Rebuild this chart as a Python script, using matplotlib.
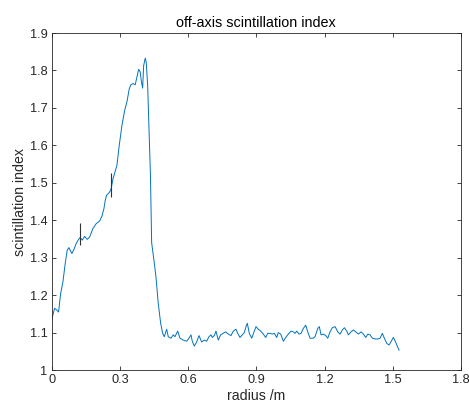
import numpy as np
import matplotlib.pyplot as plt

# values
radius = [0.0, 0.0132, 0.0233, 0.0308, 0.0396, 0.0497, 0.0598, 0.0686, 0.0761, 0.0893,
          0.0981, 0.1082, 0.1188, 0.1258, 0.1346, 0.1452, 0.1566, 0.1672, 0.1817, 0.1962,
          0.2111, 0.2213, 0.2301, 0.2358, 0.2419, 0.2534, 0.2609, 0.2697, 0.2873, 0.2974,
          0.3092, 0.3211, 0.3312, 0.3414, 0.3488, 0.3576, 0.3677, 0.3752, 0.3827, 0.3897,
          0.3941, 0.4003, 0.4047, 0.4117, 0.4161, 0.4223, 0.4293, 0.4346, 0.4399, 0.4500,
          0.4588, 0.4689, 0.4795, 0.4883, 0.4953, 0.5059, 0.5129, 0.5248, 0.5349, 0.5424,
          0.5543, 0.5644, 0.5789, 0.5939, 0.6040, 0.6128, 0.6185, 0.6273, 0.6378, 0.6480,
          0.6598, 0.6713, 0.6818, 0.6919, 0.7007, 0.7064, 0.7152, 0.7227, 0.7328, 0.7434,
          0.7548, 0.7654, 0.7768, 0.7887, 0.7988, 0.8107, 0.8182, 0.8283, 0.8384, 0.8472,
          0.8547, 0.8604, 0.8692, 0.8798, 0.8899, 0.8987, 0.9088, 0.9194, 0.9308, 0.9413,
          0.9501, 0.9602, 0.9704, 0.9792, 0.9897, 0.9968, 1.0073, 1.0188, 1.0293, 1.0408,
          1.0526, 1.0627, 1.0702, 1.0777, 1.0878, 1.0966, 1.1067, 1.1173, 1.1261, 1.1362,
          1.1507, 1.1582, 1.1701, 1.1771, 1.1846, 1.1947, 1.2053, 1.2141, 1.2242, 1.2343,
          1.2462, 1.2581, 1.2682, 1.2783, 1.2871, 1.2977, 1.3047, 1.3166, 1.3267, 1.3372,
          1.3487, 1.3605, 1.3707, 1.3812, 1.3900, 1.4001, 1.4103, 1.4221, 1.4340, 1.4441,
          1.4542, 1.4630, 1.4736, 1.4837, 1.4925, 1.5026, 1.5101, 1.5176, 1.5277]
scint = [1.133, 1.165, 1.160, 1.155, 1.204, 1.235, 1.284, 1.320, 1.327, 1.311,
         1.322, 1.338, 1.349, 1.354, 1.347, 1.357, 1.349, 1.355, 1.378, 1.391,
         1.398, 1.411, 1.431, 1.453, 1.467, 1.474, 1.482, 1.510, 1.547, 1.600,
         1.653, 1.693, 1.716, 1.751, 1.762, 1.765, 1.762, 1.782, 1.803, 1.796,
         1.773, 1.753, 1.813, 1.833, 1.822, 1.760, 1.618, 1.520, 1.340, 1.293,
         1.249, 1.178, 1.125, 1.098, 1.089, 1.109, 1.089, 1.085, 1.094, 1.089,
         1.104, 1.085, 1.080, 1.077, 1.085, 1.094, 1.077, 1.064, 1.075, 1.092,
         1.075, 1.080, 1.077, 1.089, 1.094, 1.087, 1.092, 1.104, 1.080, 1.094,
         1.098, 1.102, 1.096, 1.092, 1.104, 1.109, 1.098, 1.087, 1.094, 1.100,
         1.116, 1.125, 1.098, 1.085, 1.102, 1.116, 1.109, 1.104, 1.096, 1.087,
         1.098, 1.098, 1.096, 1.098, 1.087, 1.100, 1.096, 1.077, 1.087, 1.096,
         1.104, 1.102, 1.098, 1.104, 1.096, 1.098, 1.111, 1.120, 1.102, 1.085,
         1.085, 1.089, 1.111, 1.116, 1.094, 1.096, 1.092, 1.085, 1.102, 1.113,
         1.116, 1.102, 1.096, 1.107, 1.113, 1.104, 1.094, 1.102, 1.107, 1.102,
         1.096, 1.102, 1.096, 1.087, 1.096, 1.094, 1.085, 1.083, 1.083, 1.085,
         1.098, 1.085, 1.071, 1.067, 1.076, 1.087, 1.078, 1.067, 1.053]

# two error bars
err_r   = [0.126, 0.261]
err_mid = [1.364, 1.495]
err_half = [0.029, 0.032]

plt.rcParams['font.family'] = ['Liberation Sans', 'DejaVu Sans']
grey = '#262626'

fig = plt.figure(figsize=(4.69, 4.13), dpi=100)
ax = fig.add_axes([0.110, 0.104, 0.873, 0.816])

ax.plot(radius, scint, color='#0072BD', lw=0.7)
ax.errorbar(err_r, err_mid, yerr=err_half, fmt='none', ecolor='#333333',
            elinewidth=0.8, capsize=0)

ax.set_xlim(0, 1.8)
ax.set_ylim(1, 1.9)
ax.set_xticks(np.arange(0, 1.81, 0.3))
ax.set_xticklabels(['0', '0.3', '0.6', '0.9', '1.2', '1.5', '1.8'])
ax.set_yticks(np.arange(1, 1.91, 0.1))
ax.set_yticklabels(['1', '1.1', '1.2', '1.3', '1.4', '1.5', '1.6', '1.7', '1.8', '1.9'])

ax.tick_params(direction='in', length=3, width=0.6, colors=grey, labelsize=9.2,
               top=True, right=True, pad=3)
for s in ax.spines.values():
    s.set_color(grey)
    s.set_linewidth(0.6)

ax.set_title('off-axis scintillation index', fontsize=10.4, color='black', pad=4)
ax.set_xlabel('radius /m', fontsize=10.2, color=grey, labelpad=2)
ax.set_ylabel('scintillation index', fontsize=10.2, color=grey, labelpad=2)

fig.savefig('out.png', dpi=100)
